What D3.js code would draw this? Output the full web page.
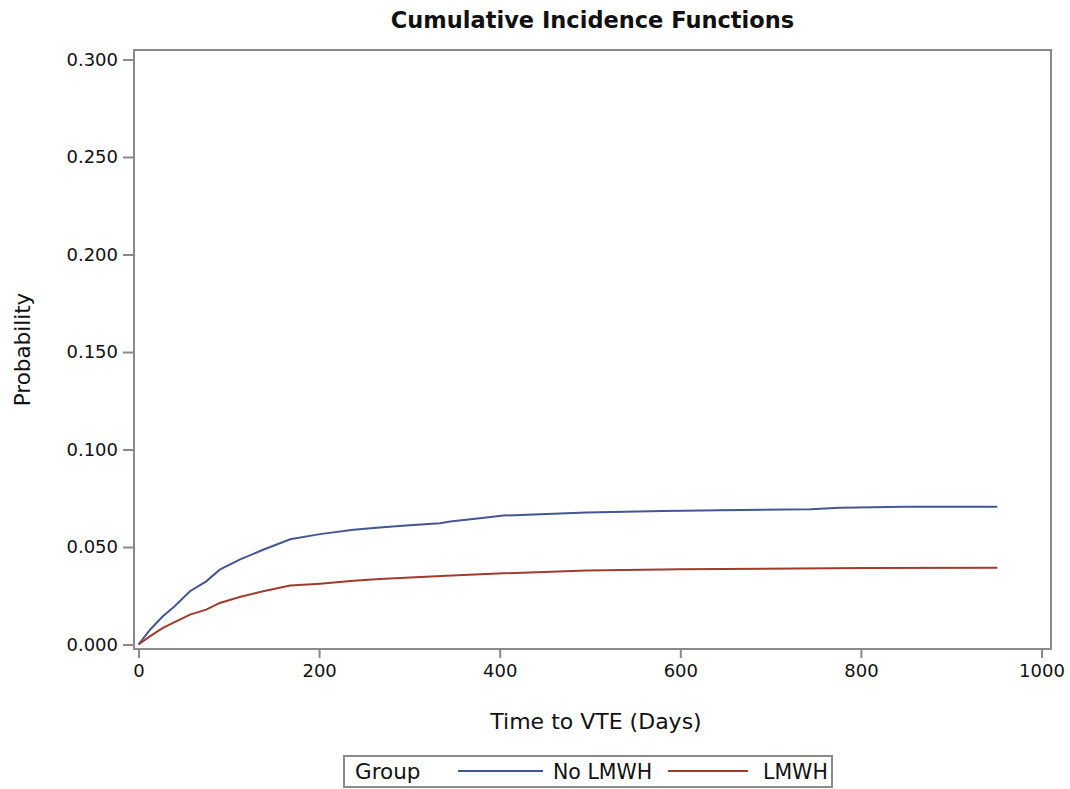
<!DOCTYPE html>
<html>
<head>
<meta charset="utf-8">
<script src="https://cdn.jsdelivr.net/npm/d3@7"></script>
<style>
  body { margin: 0; background: #fff; }
  text { font-family: "DejaVu Sans", sans-serif; fill: #111; }
</style>
</head>
<body>
<div id="chart"></div>
<script>
// Data
var groups = ["No LMWH", "LMWH"];
var groupColors = ["#445694", "#A23A2E"];

var timeNoLMWH = [0, 13, 27, 40, 57, 75, 90, 112, 138, 168, 201, 238, 267, 300, 334, 345, 378, 404, 445, 496, 581, 644, 744, 777, 849, 951];
var probNoLMWH = [0, 0.0077, 0.0145, 0.0196, 0.0273, 0.0324, 0.0384, 0.0435, 0.0486, 0.054, 0.0566, 0.0588, 0.0600, 0.0612, 0.0622, 0.0631, 0.0648, 0.0661, 0.0668, 0.0677, 0.0685, 0.0689, 0.0694, 0.0701, 0.0706, 0.0706];

var timeLMWH = [0, 13, 27, 57, 75, 90, 112, 138, 168, 201, 238, 267, 301, 341, 404, 496, 600, 805, 951];
var probLMWH = [0, 0.0043, 0.0085, 0.0153, 0.0179, 0.0213, 0.0244, 0.0273, 0.0302, 0.0312, 0.0327, 0.0336, 0.0344, 0.0353, 0.0365, 0.0380, 0.0386, 0.0392, 0.0393];

var xTicks = [0, 200, 400, 600, 800, 1000];
var yTicks = [0, 0.05, 0.1, 0.15, 0.2, 0.25, 0.3];

var svgWidth = 1070;
var svgHeight = 789;

// frame of the plot area
var frame = { left: 134, right: 1051, top: 50, bottom: 649 };

var svg = d3.select("#chart")
  .append("svg")
  .attr("width", svgWidth)
  .attr("height", svgHeight);

var xScale = d3.scaleLinear()
  .domain([0, 1000])
  .range([138.5, 1041.5]);

var yScale = d3.scaleLinear()
  .domain([0, 0.3])
  .range([644.5, 59.5]);

// Title
svg.append("text")
  .attr("x", (frame.left + frame.right) / 2)
  .attr("y", 28)
  .attr("text-anchor", "middle")
  .style("font-size", "22.5px")
  .style("font-weight", "bold")
  .text("Cumulative Incidence Functions");

// Axes
var bottomAxis = d3.axisBottom(xScale)
  .tickValues(xTicks)
  .tickFormat(d3.format("d"))
  .tickSize(9)
  .tickPadding(6)
  .tickSizeOuter(0);

var leftAxis = d3.axisLeft(yScale)
  .tickValues(yTicks)
  .tickFormat(d3.format(".3f"))
  .tickSize(11)
  .tickPadding(5)
  .tickSizeOuter(0);

var xAxis = svg.append("g")
  .attr("transform", `translate(0, ${frame.bottom})`)
  .call(bottomAxis);

var yAxis = svg.append("g")
  .attr("transform", `translate(${frame.left}, 0)`)
  .call(leftAxis);

[xAxis, yAxis].forEach(function (ax) {
  ax.select(".domain").remove();
  ax.selectAll(".tick line").attr("stroke", "#8a8a8a").attr("stroke-width", 2);
  ax.selectAll(".tick text")
    .style("font-size", "18px")
    .attr("fill", "#111");
});

// Frame
svg.append("rect")
  .attr("x", frame.left)
  .attr("y", frame.top)
  .attr("width", frame.right - frame.left)
  .attr("height", frame.bottom - frame.top)
  .attr("fill", "none")
  .attr("stroke", "#8a8a8a")
  .attr("stroke-width", 2);

// Curves (many small steps, drawn as a connected line)
var line = d3.line()
  .x(d => xScale(d[0]))
  .y(d => yScale(d[1]));

var series = [
  d3.zip(timeNoLMWH, probNoLMWH),
  d3.zip(timeLMWH, probLMWH)
];

series.forEach(function (s, i) {
  svg.append("path")
    .datum(s)
    .attr("d", line)
    .attr("fill", "none")
    .attr("stroke", groupColors[i])
    .attr("stroke-width", 2);
});

// Axis labels
svg.append("text")
  .attr("x", 596)
  .attr("y", 729)
  .attr("text-anchor", "middle")
  .style("font-size", "22px")
  .text("Time to VTE (Days)");

svg.append("text")
  .attr("transform", `translate(30, ${(frame.top + frame.bottom) / 2}) rotate(-90)`)
  .attr("text-anchor", "middle")
  .style("font-size", "21.5px")
  .text("Probability");

// Legend
var legend = svg.append("g");

legend.append("rect")
  .attr("x", 344)
  .attr("y", 756)
  .attr("width", 488)
  .attr("height", 31)
  .attr("fill", "none")
  .attr("stroke", "#8a8a8a")
  .attr("stroke-width", 2);

legend.append("text")
  .attr("x", 355)
  .attr("y", 779)
  .style("font-size", "21.5px")
  .text("Group");

var legendItems = [
  { x1: 458, x2: 543, tx: 553 },
  { x1: 668, x2: 748, tx: 763 }
];

legendItems.forEach(function (it, i) {
  legend.append("line")
    .attr("x1", it.x1)
    .attr("x2", it.x2)
    .attr("y1", 771)
    .attr("y2", 771)
    .attr("stroke", groupColors[i])
    .attr("stroke-width", 2);
  legend.append("text")
    .attr("x", it.tx)
    .attr("y", 779)
    .style("font-size", "20.5px")
    .text(groups[i]);
});
</script>
</body>
</html>
